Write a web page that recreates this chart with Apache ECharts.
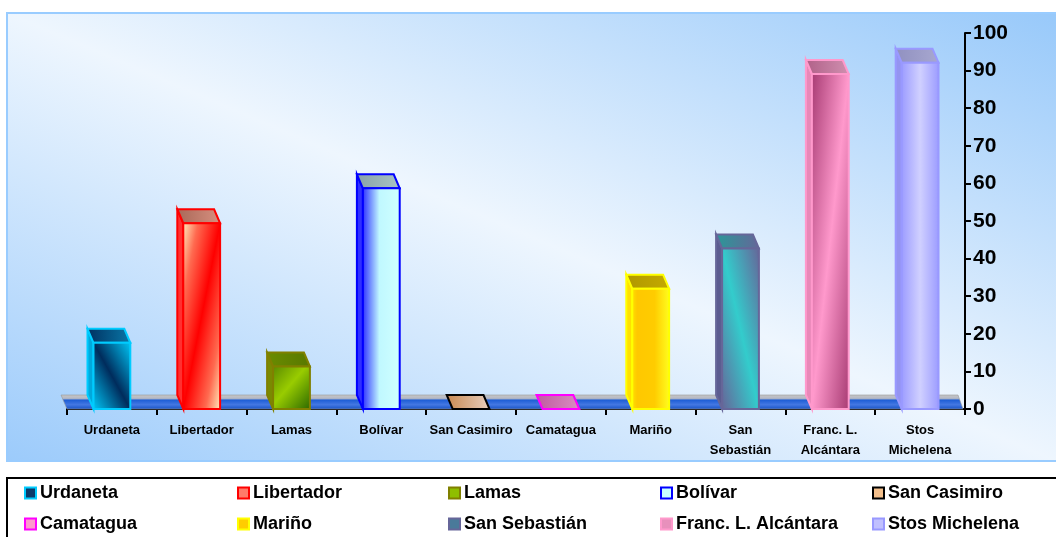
<!DOCTYPE html>
<html>
<head>
<meta charset="utf-8">
<script src="https://cdn.jsdelivr.net/npm/echarts@6/dist/echarts.min.js"></script>
<style>
  html, body { margin: 0; padding: 0; background: #ffffff; }
  #chart { width: 1056px; height: 537px; }
</style>
</head>
<body>
<div id="chart"></div>
<script>
// Municipalities (one series each, so each gets its own legend entry)
const categories = ['Urdaneta', 'Libertador', 'Lamas', 'Bolívar', 'San Casimiro',
  'Camatagua', 'Mariño', 'San Sebastián', 'Franc. L. Alcántara', 'Stos Michelena'];
// Category-axis tick labels (long names wrap onto two lines)
const tickLabels = ['Urdaneta', 'Libertador', 'Lamas', 'Bolívar', 'San Casimiro',
  'Camatagua', 'Mariño', 'San\nSebastián', 'Franc. L.\nAlcántara', 'Stos\nMichelena'];
// Column heights
const values = [17.6, 49.4, 11.3, 58.7, 0, 0, 32, 42.7, 89.1, 92.1];
// Value axis range
const yMin = 0, yMax = 100, yStep = 10;

// Per-column look: border, front/top fills, side shade, legend swatch
const looks = [
  { border: '#00ccff', side: '#00a8dc', icon: '#0a3a6a',
    front: { dir: -1, stops: [[0, '#00c4f4'], [0.5, '#002c5c'], [1, '#00c4f4']] },
    top: ['#003060', '#0a78a8'] },
  { border: '#ff0000', side: '#ff3030', icon: '#ff7a6a',
    front: { dir: 1, stops: [[0, '#ffe8b8'], [0.2, '#ff6a50'], [0.5, '#ff0000'], [0.8, '#ff6a50'], [1, '#ffe8b8']] },
    top: ['#a86858', '#d89080'] },
  { border: '#808000', side: '#7a8a00', icon: '#8fbf00',
    front: { dir: 1, stops: [[0, '#5c8c00'], [0.45, '#99cc00'], [1, '#2e6a00']] },
    top: ['#6a8c00', '#587800'] },
  { border: '#0000ff', side: '#3030ff', icon: '#c8ffff',
    front: { dir: 0, stops: [[0, '#2a2aff'], [0.45, '#c0f8ff'], [1, '#d0ffff']] },
    top: ['#88a0a8', '#a8c4c4'] },
  { border: '#000000', side: '#c08858', icon: '#f4c08c',
    front: { dir: 0, stops: [[0, '#c88850'], [1, '#e8d0c0']] },
    top: ['#c88850', '#e8d0c0'] },
  { border: '#ff00ff', side: '#d060b0', icon: '#ff99cc',
    front: { dir: 0, stops: [[0, '#c05aa0'], [1, '#d890c0']] },
    top: ['#c05aa0', '#d890c0'] },
  { border: '#ffff00', side: '#ffe000', icon: '#ffcc00',
    front: { dir: 0, stops: [[0, '#ffe400'], [0.15, '#ffc800'], [0.6, '#ffcc00'], [1, '#ffff20']] },
    top: ['#b09800', '#c4aa00'] },
  { border: '#666699', side: '#5c5c90', icon: '#4a7a9a',
    front: { dir: -1, stops: [[0, '#666699'], [0.5, '#33cccc'], [1, '#666699']] },
    top: ['#2a9898', '#666699'] },
  { border: '#ff99cc', side: '#e888b8', icon: '#e890bc',
    front: { dir: 1, stops: [[0, '#a83c74'], [0.5, '#ff99cc'], [1, '#a83c74']] },
    top: ['#b06088', '#d090b0'] },
  { border: '#9999ff', side: '#9494f0', icon: '#c0c0ff',
    front: { dir: 0, stops: [[0, '#9a9aff'], [0.5, '#d0d0ff'], [1, '#9a9aff']] },
    top: ['#9090c0', '#a8a8d0'] }
];

const FONT = '"Liberation Sans", Arial, sans-serif';
const DEPTH_X = -6, DEPTH_Y = -14;   // receding direction of the 3-D columns

const chart = echarts.init(document.getElementById('chart'), null, { renderer: 'canvas' });
const LG = echarts.graphic.LinearGradient;

function toStops(list) {
  return list.map(s => ({ offset: s[0], color: s[1] }));
}
// Gradient whose bands run along a diagonal of the box (x, y, w, h)
function diagGradient(x, y, w, h, stops, dir) {
  const k = 2 * w * h / (w * w + h * h);
  if (dir === 1) {
    return new LG(x, y, x + k * h, y + k * w, toStops(stops), true);
  }
  return new LG(x, y + h, x + k * h, y + h - k * w, toStops(stops), true);
}

function renderColumn(params, api) {
  const look = looks[params.seriesIndex - 1];
  const idx = api.value(0);
  const v = api.value(1);
  const base = api.coord([idx, yMin]);
  const top = api.coord([idx, v]);
  const w = api.size([1, 0])[0] * 0.41;
  const x0 = base[0] - w / 2, x1 = base[0] + w / 2;
  const yb = base[1], yt = top[1];
  const h = yb - yt;
  const stroke = { stroke: look.border, lineWidth: 2, lineJoin: 'miter' };
  const children = [];
  if (h > 0.5) {
    children.push({
      type: 'polygon',
      shape: { points: [[x0, yb], [x0, yt], [x0 + DEPTH_X, yt + DEPTH_Y], [x0 + DEPTH_X, yb + DEPTH_Y]] },
      style: Object.assign({ fill: look.side }, stroke)
    });
  }
  children.push({
    type: 'polygon',
    shape: { points: [[x0, yt], [x1, yt], [x1 + DEPTH_X, yt + DEPTH_Y], [x0 + DEPTH_X, yt + DEPTH_Y]] },
    style: Object.assign({
      fill: new LG(0, 0, 1, 0, [{ offset: 0, color: look.top[0] }, { offset: 1, color: look.top[1] }])
    }, stroke)
  });
  if (h > 0.5) {
    const f = look.front;
    const fill = f.dir === 0
      ? new LG(0, 0, 1, 0, toStops(f.stops))
      : diagGradient(x0, yt, w, h, f.stops, f.dir);
    children.push({
      type: 'rect',
      shape: { x: x0, y: yt, width: w, height: h },
      style: Object.assign({ fill: fill }, stroke)
    });
  }
  return { type: 'group', children: children };
}

// Thin floor slab under the columns
function renderFloor(params, api) {
  const cs = params.coordSys;
  const xl = cs.x, xr = cs.x + cs.width - 2, yb = cs.y + cs.height;
  return {
    type: 'polygon',
    shape: { points: [[xl, yb], [xr, yb], [xr + DEPTH_X + 1, yb + DEPTH_Y], [xl + DEPTH_X, yb + DEPTH_Y]] },
    style: {
      fill: new LG(0, 0, 0, 1, [
        { offset: 0, color: '#c8c8c8' },
        { offset: 0.26, color: '#b4b8c4' },
        { offset: 0.38, color: '#1f5fd6' },
        { offset: 0.68, color: '#4478e2' },
        { offset: 1, color: '#1450c4' }
      ]),
      stroke: 'rgba(150,150,150,0.6)', lineWidth: 1
    }
  };
}

// Panel background: light band along the main diagonal, blue towards two corners
const panel = { x: 7, y: 13, w: 1060, h: 448 };
const bg = (function () {
  const W = 1049, H = panel.h;
  const L = Math.sqrt(W * W + H * H);
  const ux = H / L, uy = -W / L;
  const span = (W * ux - H * uy);
  const x0 = panel.x, y0 = panel.y + H;
  return new LG(x0, y0, x0 + span * ux, y0 + span * uy, [
    { offset: 0, color: '#9ccbfb' },
    { offset: 0.5, color: '#eef6fe' },
    { offset: 1, color: '#98c9fa' }
  ], true);
})();

const legendCols = [24, 237, 448, 660, 872];
const legendRows = [484, 515];
const legends = categories.map((name, i) => ({
  data: [{
    name: name,
    itemStyle: { color: looks[i].icon, borderColor: looks[i].border, borderWidth: 2 }
  }],
  left: legendCols[i % 5],
  top: legendRows[Math.floor(i / 5)],
  padding: 0,
  icon: 'rect',
  itemWidth: 11,
  itemHeight: 11,
  selectedMode: false,
  textStyle: { fontFamily: FONT, fontSize: 18, fontWeight: 'bold', color: '#000', lineHeight: 18, padding: [0, 0, 0, -1] }
}));

const series = [{
  type: 'custom',
  name: '__floor',
  renderItem: renderFloor,
  data: [[0, 0]],
  z: 1,
  silent: true
}].concat(categories.map((name, i) => ({
  type: 'custom',
  name: name,
  renderItem: renderColumn,
  encode: { x: 0, y: 1 },
  data: [[i, values[i]]],
  itemStyle: { color: looks[i].icon },
  z: 3
})));

chart.setOption({
  animation: false,
  backgroundColor: '#ffffff',
  textStyle: { fontFamily: FONT },
  graphic: {
    elements: [
      {
        type: 'rect', z: -1, silent: true,
        shape: { x: panel.x, y: panel.y, width: panel.w, height: panel.h },
        style: { fill: bg, stroke: '#99ccff', lineWidth: 2 }
      },
      {
        type: 'rect', z: -1, silent: true,
        shape: { x: 7, y: 478, width: 1060, height: 70 },
        style: { fill: '#ffffff', stroke: '#000000', lineWidth: 2 }
      }
    ]
  },
  legend: legends,
  grid: { left: 67, right: 91, top: 33, bottom: 128, containLabel: false, outerBoundsMode: 'none' },
  xAxis: {
    type: 'category',
    data: tickLabels,
    boundaryGap: true,
    axisLine: { show: true, lineStyle: { color: '#000', width: 2 } },
    axisTick: { show: true, alignWithLabel: false, length: 6, lineStyle: { color: '#000', width: 2 } },
    axisLabel: {
      interval: 0, margin: 11, color: '#000', fontFamily: FONT,
      fontSize: 13, fontWeight: 'bold', lineHeight: 20
    },
    splitLine: { show: false }
  },
  yAxis: {
    type: 'value',
    position: 'right',
    min: yMin, max: yMax, interval: yStep,
    axisLine: { show: true, lineStyle: { color: '#000', width: 2 } },
    axisTick: { show: true, inside: false, length: 6, lineStyle: { color: '#000', width: 2 } },
    axisLabel: { margin: 8, color: '#000', fontFamily: FONT, fontSize: 21, fontWeight: 'bold' },
    splitLine: { show: false }
  },
  series: series
});
</script>
</body>
</html>
